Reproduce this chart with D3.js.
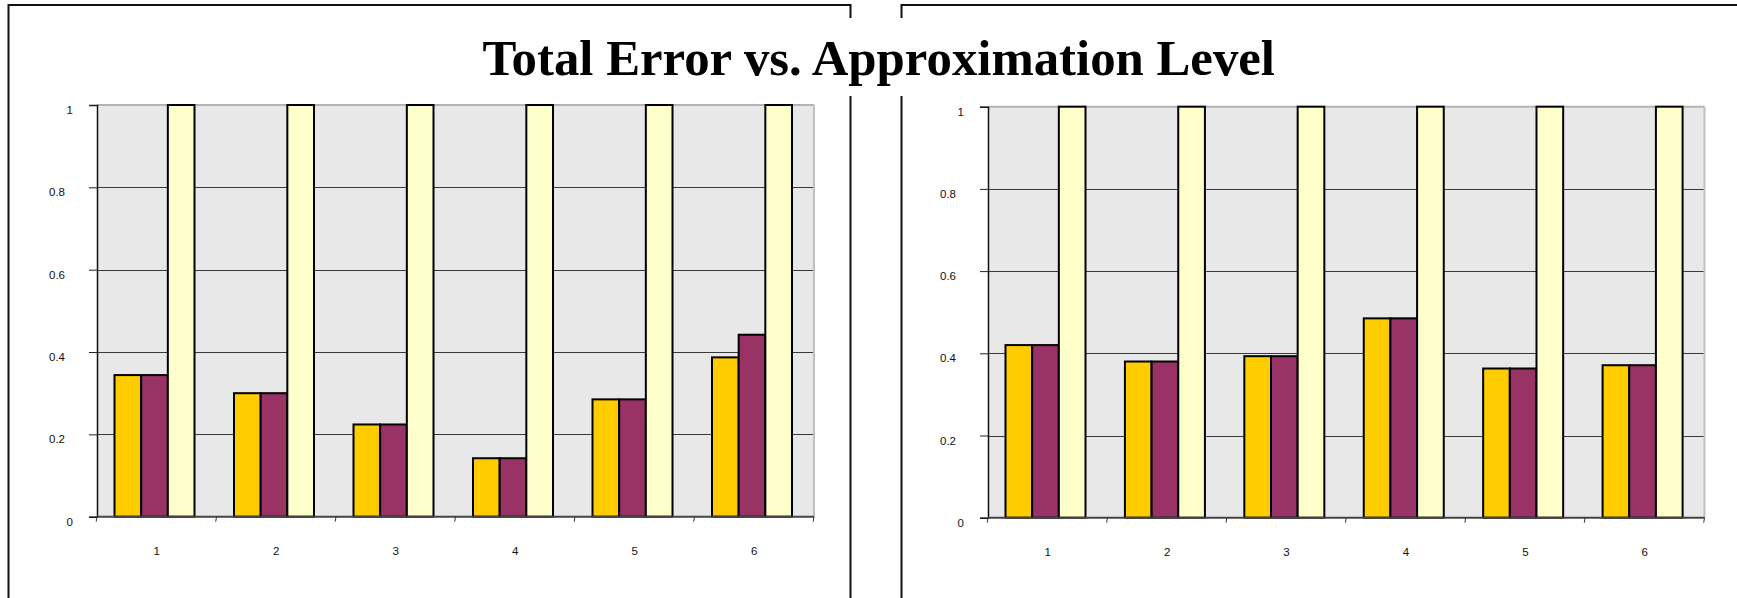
<!DOCTYPE html>
<html>
<head>
<meta charset="utf-8">
<script src="https://cdn.jsdelivr.net/npm/d3@7"></script>
<style>
  html, body { margin: 0; padding: 0; background: #fff; }
  svg { display: block; }
  .tick-label { font-family: Arial, "Liberation Sans", sans-serif; font-size: 11.5px; fill: #111; }
</style>
</head>
<body>
<svg id="chart" width="1737" height="598"></svg>
<script>
// Approximation levels along the x axis
const categories = ["1", "2", "3", "4", "5", "6"];
const seriesKeys = ["a", "b", "c"];
const seriesColors = ["#FFCC00", "#993366", "#FFFFCC"];
const yTicks = [0, 0.2, 0.4, 0.6, 0.8, 1];
const yTickLabels = ["0", "0.2", "0.4", "0.6", "0.8", "1"];

// Left panel
const leftA = [0.344, 0.300, 0.224, 0.142, 0.285, 0.387];
const leftB = [0.344, 0.300, 0.224, 0.142, 0.285, 0.442];
const leftC = [1, 1, 1, 1, 1, 1];

// Right panel
const rightA = [0.420, 0.380, 0.393, 0.485, 0.363, 0.371];
const rightB = [0.420, 0.380, 0.393, 0.485, 0.363, 0.371];
const rightC = [1, 1, 1, 1, 1, 1];

const titleText = "Total Error vs. Approximation Level";

const svg = d3.select("#chart");

// Panel frames
svg.append("path")
  .attr("d", "M8.5,600 L8.5,5 L850.5,5 L850.5,600")
  .attr("fill", "none").attr("stroke", "#111").attr("stroke-width", 2);
svg.append("path")
  .attr("d", "M901.5,600 L901.5,5 L1740,5")
  .attr("fill", "none").attr("stroke", "#111").attr("stroke-width", 2);

function drawPanel(cfg) {
  const g = svg.append("g");
  const x0 = d3.scaleBand().domain(categories).range([cfg.left, cfg.right]);
  const x1 = d3.scaleBand().domain(seriesKeys).range([17.5, 97.5]);
  const y = d3.scaleLinear().domain([0, 1]).range([cfg.bottom, cfg.top]);

  // plot background
  g.append("rect")
    .attr("x", cfg.left).attr("y", cfg.top)
    .attr("width", cfg.right - cfg.left).attr("height", cfg.bottom - cfg.top)
    .attr("fill", "#e8e8e8");

  // horizontal gridlines
  g.selectAll("line.grid").data(yTicks.filter(t => t > 0 && t < 1)).enter()
    .append("line")
    .attr("x1", cfg.left).attr("x2", cfg.right)
    .attr("y1", d => Math.round(y(d)) + 0.5).attr("y2", d => Math.round(y(d)) + 0.5)
    .attr("stroke", "#3a3a3a").attr("stroke-width", 1);

  // top and right plot borders
  g.append("line")
    .attr("x1", cfg.left).attr("x2", cfg.right)
    .attr("y1", y(1)).attr("y2", y(1))
    .attr("stroke", "#b4b4b4").attr("stroke-width", 2);
  g.append("line")
    .attr("x1", cfg.right).attr("x2", cfg.right)
    .attr("y1", y(1)).attr("y2", y(0))
    .attr("stroke", "#c0c0c0").attr("stroke-width", 2);

  // bars
  const rows = categories.map((c, i) => ({
    cat: c,
    vals: seriesKeys.map((k, j) => ({ key: k, color: seriesColors[j], v: cfg.series[j][i] }))
  }));
  const groups = g.selectAll("g.cat").data(rows).enter()
    .append("g").attr("transform", d => `translate(${x0(d.cat)},0)`);
  groups.selectAll("rect").data(d => d.vals).enter()
    .append("rect")
    .attr("x", d => x1(d.key))
    .attr("width", x1.bandwidth())
    .attr("y", d => y(d.v))
    .attr("height", d => y(0) - y(d.v))
    .attr("fill", d => d.color)
    .attr("stroke", "#000").attr("stroke-width", 2);

  // y axis
  const yAxis = d3.axisLeft(y).tickValues(yTicks).tickSize(8).tickFormat((d, i) => yTickLabels[i]);
  const ya = g.append("g").attr("transform", `translate(${cfg.left},0)`).call(yAxis);
  ya.select(".domain").attr("stroke", "#111").attr("stroke-width", 1.5);
  ya.selectAll(".tick line").attr("stroke", "#222");
  ya.selectAll(".tick text")
    .attr("class", "tick-label")
    .attr("x", d => (d % 1 === 0 ? -24 : -32))
    .attr("dy", "0.75em")
    .attr("font-size", null).attr("font-family", null);

  // x axis
  const xa = g.append("g").attr("transform", `translate(0,${cfg.bottom})`);
  xa.append("line")
    .attr("x1", cfg.left).attr("x2", cfg.right)
    .attr("stroke", "#444").attr("stroke-width", 2);
  const edges = categories.map(c => x0(c)).concat([cfg.right]);
  xa.selectAll("line.xt").data(edges).enter()
    .append("line")
    .attr("x1", d => d).attr("x2", d => d - 0.8)
    .attr("y1", 0).attr("y2", 5)
    .attr("stroke", "#333").attr("stroke-width", 1);
  xa.selectAll("text").data(categories).enter()
    .append("text")
    .attr("class", "tick-label")
    .attr("x", d => x0(d) + x0.bandwidth() / 2)
    .attr("y", 38)
    .attr("text-anchor", "middle")
    .text(d => d);
}

drawPanel({ left: 97, right: 814, top: 105, bottom: 516.7, series: [leftA, leftB, leftC] });
drawPanel({ left: 988, right: 1704.5, top: 106.7, bottom: 517.7, series: [rightA, rightB, rightC] });

// Title on a white backing box
svg.append("rect")
  .attr("x", 470).attr("y", 18).attr("width", 820).attr("height", 78)
  .attr("fill", "#fff");
svg.append("text")
  .attr("x", 878.7).attr("y", 74.5)
  .attr("text-anchor", "middle")
  .attr("font-family", "'Liberation Serif', 'Times New Roman', serif")
  .attr("font-weight", "bold")
  .attr("font-size", 50.8)
  .attr("fill", "#000")
  .text(titleText);
</script>
</body>
</html>
